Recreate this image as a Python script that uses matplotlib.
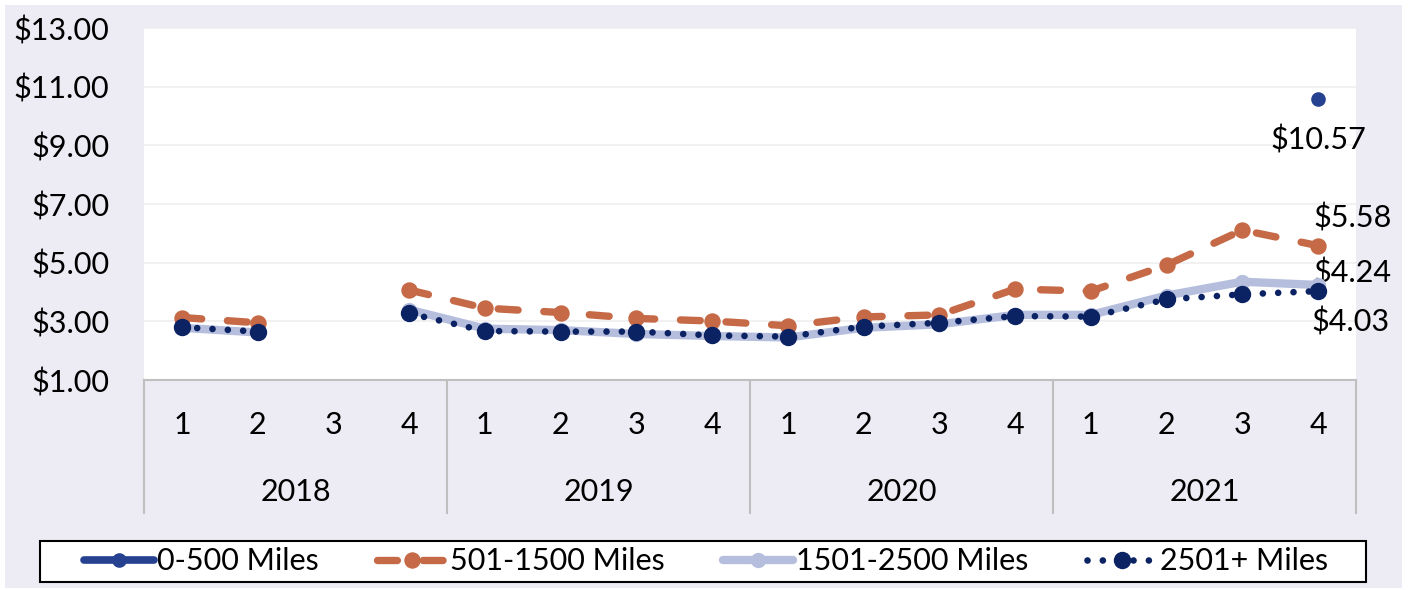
import numpy as np
import matplotlib
matplotlib.use("Agg")
import matplotlib.pyplot as plt
from matplotlib.patches import Rectangle

plt.rcParams['font.family'] = ['Lato', 'DejaVu Sans']

nan = np.nan
quarters = ["1", "2", "3", "4"] * 4
years = ["2018", "2019", "2020", "2021"]
series_names = ["0-500 Miles", "501-1500 Miles", "1501-2500 Miles", "2501+ Miles"]

mi_0_500 = [nan] * 15 + [10.57]
mi_501_1500 = [3.13, 2.95, nan, 4.07, 3.45, 3.30, 3.10, 3.01,
               2.85, 3.15, 3.22, 4.10, 4.03, 4.92, 6.11, 5.58]
mi_1501_2500 = [2.78, 2.62, nan, 3.40, 2.75, 2.70, 2.57, 2.50,
                2.45, 2.78, 2.90, 3.22, 3.22, 3.88, 4.35, 4.24]
mi_2501 = [2.80, 2.65, nan, 3.27, 2.67, 2.65, 2.65, 2.52,
           2.48, 2.82, 2.95, 3.18, 3.16, 3.75, 3.92, 4.03]

W, H = 1413, 590
fig = plt.figure(figsize=(W / 100, H / 100), dpi=100, facecolor="white")
bg = "#EDECF5"
fig.patches.append(Rectangle((5 / W, 1 - 588 / H), (1402 - 5) / W, (588 - 5) / H,
                             transform=fig.transFigure, facecolor=bg, edgecolor="none", zorder=-10))

left, right, top, bottom = 144, 1356, 28, 380
ax = fig.add_axes([left / W, 1 - bottom / H, (right - left) / W, (bottom - top) / H])
ax.set_facecolor("white")

x = np.arange(16)
FS = 22

c0 = "#26418F"
c1 = "#C56946"
c2 = "#B6BEDE"
c3 = "#0B2263"

ax.plot(x, mi_0_500, color=c0, lw=5.5, marker="o", ms=9.5, label=series_names[0], zorder=3,
        solid_capstyle="round")
ax.plot(x, mi_501_1500, color=c1, lw=5.3, marker="o", ms=10.8, label=series_names[1],
        dashes=(2.7, 3.5), dash_capstyle="round", zorder=3)
ax.plot(x, mi_1501_2500, color=c2, lw=6, marker="o", ms=10, label=series_names[2],
        solid_capstyle="round", solid_joinstyle="round", zorder=4)
ax.plot(x, mi_2501, color=c3, lw=4.8, marker="o", ms=11.5, label=series_names[3],
        dashes=(0.001, 2.3), dash_capstyle="round", zorder=5)

ax.set_xlim(-0.5, 15.5)
ax.set_ylim(1, 13)
yt = np.arange(1, 14, 2)
ax.set_yticks(yt)
ax.set_yticklabels([f"${v:.2f}" for v in yt], fontsize=FS)
ax.yaxis.grid(True, color="#EFEFEF", lw=1.2)
ax.set_axisbelow(True)
ax.tick_params(axis="y", length=0, pad=25)
for s in ["left", "right", "top"]:
    ax.spines[s].set_visible(False)
ax.spines["bottom"].set_color("#BFBFBF")
ax.spines["bottom"].set_linewidth(1.5)

ax.set_xticks(x)
ax.set_xticklabels(quarters, fontsize=FS)
ax.tick_params(axis="x", length=0, pad=22)

trans = ax.get_xaxis_transform()
ph = bottom - top
sep_bottom = -(513 - bottom) / ph
for xs in [-0.5, 3.5, 7.5, 11.5, 15.5]:
    ax.plot([xs, xs], [0, sep_bottom], transform=trans, color="#BFBFBF", lw=1.5,
            clip_on=False, zorder=1)
for i, yr in enumerate(years):
    ax.text(4 * i + 1.5, -(492 - bottom) / ph, yr, transform=trans, ha="center",
            va="center", fontsize=FS)

# data labels
labels = [(mi_0_500[-1], 0, -29.5), (mi_501_1500[-1], 24.5, 20),
          (mi_1501_2500[-1], 24.5, 8.6), (mi_2501[-1], 23, -22.3)]
for v, dx, dy in labels:
    ax.annotate(f"${v:.2f}", xy=(15, v), xytext=(dx, dy), textcoords="offset points",
                ha="center", va="center", fontsize=FS, annotation_clip=False)

# legend
fig.patches.append(Rectangle((40 / W, 1 - 582 / H), (1366 - 40) / W, (582 - 541) / H,
                             transform=fig.transFigure, facecolor="white", edgecolor="black",
                             lw=1.5, zorder=1))
leg = fig.legend(loc="center", ncol=4, mode="expand",
                 bbox_to_anchor=(84 / W, 1 - 582 / H, (1328 - 84) / W, (582 - 541) / H),
                 frameon=False, fontsize=FS, handlelength=2.3, handletextpad=0.1,
                 borderpad=0.0, borderaxespad=0.0)

fig.savefig("out.png", dpi=100, facecolor=fig.get_facecolor())
